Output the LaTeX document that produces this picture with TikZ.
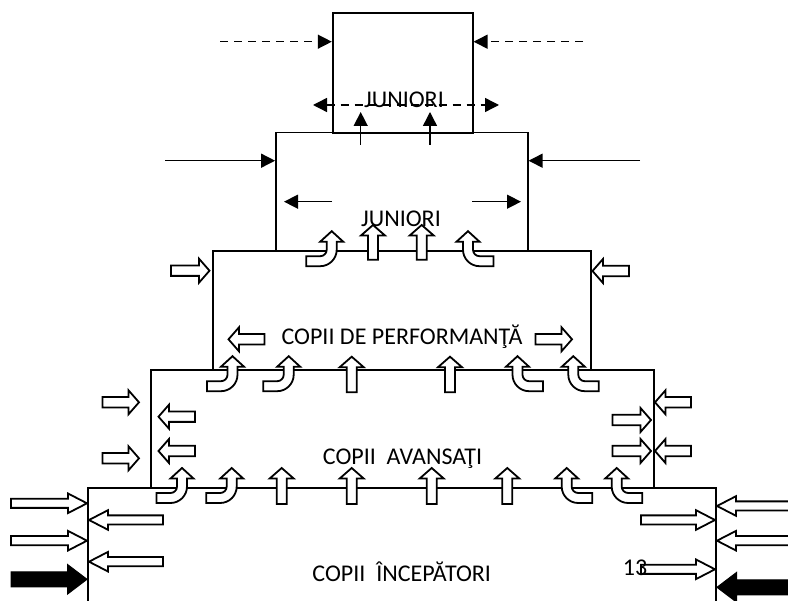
\documentclass[tikz,border=0pt]{standalone}
\usepackage{fontspec}
\setmainfont{Carlito}
\usetikzlibrary{arrows.meta}
\tikzset{
  box/.style={draw, line width=1.8pt, inner sep=0pt},
  wblk/.style={draw=black, fill=white, line width=1.8pt, line join=miter},
  kblk/.style={draw=black, fill=black, line width=1pt, line join=miter},
  thin/.style={line width=1.4pt, -{Triangle[length=14pt,width=14pt]}},
  dsh/.style={thin, dash pattern=on 8pt off 6pt},
  lab/.style={inner sep=0pt, anchor=base, font=\fontsize{24}{28}\selectfont},
  pics/curvup/.style={code={
    \draw[wblk] (0,0) -- (11.5,10.5) -- (5,10.5) -- (5,18.5)
      .. controls (5,27.6) and (-2.39,35) .. (-11.5,35) -- (-25.5,35) -- (-25.5,25) -- (-11.5,25)
      .. controls (-7.91,25) and (-5,22.09) .. (-5,18.5) -- (-5,10.5) -- (-11.5,10.5) -- cycle;
  }}
}
% horizontal block arrow: style, y, x tail, x tip, shaft half, head half, head length
\newcommand\blkH[7]{%
  \pgfmathsetmacro\blkb{#4-sign(#4-#3)*#7}%
  \draw[#1] (#3,#2-#5) -- (\blkb,#2-#5) -- (\blkb,#2-#6) -- (#4,#2) -- (\blkb,#2+#6) -- (\blkb,#2+#5) -- (#3,#2+#5) -- cycle;}
% vertical block arrow: style, x, y tail, y tip, shaft half, head half, head length
\newcommand\blkV[7]{%
  \pgfmathsetmacro\blkb{#4-sign(#4-#3)*#7}%
  \draw[#1] (#2-#5,#3) -- (#2-#5,\blkb) -- (#2-#6,\blkb) -- (#2,#4) -- (#2+#6,\blkb) -- (#2+#5,\blkb) -- (#2+#5,#3) -- cycle;}
\begin{document}
\begin{tikzpicture}[x=1pt,y=-1pt]
\useasboundingbox (0,0) rectangle (788,601);
\fill[white] (0,0) rectangle (788,601);
\clip (0,0) rectangle (788,601);

% boxes
\node[box, minimum width=140pt, minimum height=119.7pt] (top) at (402.7,72.85) {};
\node[box, minimum width=251.7pt, minimum height=118.5pt] (jun) at (401.85,191.75) {};
\node[box, minimum width=378pt, minimum height=118.7pt] (perf) at (402,310.15) {};
\node[box, minimum width=503.3pt, minimum height=118.3pt] (avans) at (402.35,429.15) {};
\node[box, minimum width=628.6pt, minimum height=151.7pt] (incep) at (402,564.15) {};

% curved block arrows (tail left) and mirrored
\pic at (331.7,231.2) {curvup};
\pic[xscale=-1] at (468,231.2) {curvup};
\pic at (232.5,356.2) {curvup};
\pic at (288.7,356.2) {curvup};
\pic[xscale=-1] at (517.5,356.2) {curvup};
\pic[xscale=-1] at (573.3,356.2) {curvup};
\pic at (182,468) {curvup};
\pic at (231.7,468) {curvup};
\pic[xscale=-1] at (566.7,468) {curvup};
\pic[xscale=-1] at (616.7,468) {curvup};

% straight upward block arrows
\blkV{wblk}{373}{259.7}{225}{5}{12}{10.5}
\blkV{wblk}{421.7}{259.7}{225}{5}{12}{10.5}
\blkV{wblk}{351.7}{392.3}{356.7}{5}{12}{10.5}
\blkV{wblk}{450}{392.3}{356.7}{5}{12}{10.5}
\blkV{wblk}{281.7}{504}{468}{5}{12}{10.5}
\blkV{wblk}{351.7}{504}{468}{5}{12}{10.5}
\blkV{wblk}{431.7}{504}{468}{5}{12}{10.5}
\blkV{wblk}{507.3}{504}{468}{5}{12}{10.5}

% performance box side arrows
\blkH{wblk}{270.7}{171}{209.5}{5.2}{12}{10.5}
\blkH{wblk}{271}{629}{592.5}{5.2}{12}{10.5}
\blkH{wblk}{339.3}{264.5}{228.5}{5.2}{12}{10.5}
\blkH{wblk}{339.3}{535.5}{572}{5.2}{12}{10.5}

% advanced box side arrows
\blkH{wblk}{402.3}{102.5}{139}{5.2}{12}{10.5}
\blkH{wblk}{458.3}{102.5}{139}{5.2}{12}{10.5}
\blkH{wblk}{416.7}{195}{158.5}{5.2}{12}{10.5}
\blkH{wblk}{451}{195}{158.5}{5.2}{12}{10.5}
\blkH{wblk}{402.3}{691}{655}{5.2}{12}{10.5}
\blkH{wblk}{451}{691}{655}{5.2}{12}{10.5}
\blkH{wblk}{420}{612.5}{651}{5.2}{12}{10.5}
\blkH{wblk}{451}{612.5}{651}{5.2}{12}{10.5}

% beginners box side arrows
\blkH{wblk}{503.3}{11}{87}{4.6}{9.8}{19}
\blkH{wblk}{520}{163}{89}{4.6}{9.8}{19}
\blkH{wblk}{540.7}{11}{87}{4.6}{9.8}{19}
\blkH{wblk}{561.7}{163}{89}{4.6}{9.8}{19}
\blkH{kblk}{579.3}{11}{87}{7.5}{14.8}{19.5}
\blkH{wblk}{506}{800}{717}{4.6}{9.8}{19}
\blkH{wblk}{520}{641}{715}{4.6}{9.8}{19}
\blkH{wblk}{540.7}{800}{717}{4.6}{9.8}{19}
\blkH{wblk}{569.3}{641}{715}{4.6}{9.8}{19}
\blkH{kblk}{587.3}{800}{717}{7.5}{14.8}{19.5}

% thin arrows of the top box
\coordinate (dl) at (220,41.7);
\coordinate (dr) at (583,41.7);
\draw[dsh] (dl) -- (dl -| top.west);
\draw[dsh] (dr) -- (dr -| top.east);
\coordinate (dd1) at (313,105);
\coordinate (dd2) at (499,105);
\draw[line width=1.4pt, dash pattern=on 8pt off 6pt, {Triangle[length=14pt,width=14pt]}-{Triangle[length=14pt,width=14pt]}] (dd1) -- (dd2);
\coordinate (ua1) at (360.7,145);
\coordinate (ub1) at (360.7,112);
\coordinate (ua2) at (430,145);
\coordinate (ub2) at (430,112);
\draw[thin] (ua1) -- (ub1);
\draw[thin] (ua2) -- (ub2);

% thin arrows of the juniors box
\coordinate (jl) at (165,160.7);
\coordinate (jr) at (640,160.7);
\draw[thin] (jl) -- (jl -| jun.west);
\draw[thin] (jr) -- (jr -| jun.east);
\coordinate (ja1) at (332,201.7);
\coordinate (jb1) at (284,201.7);
\coordinate (ja2) at (472,201.7);
\coordinate (jb2) at (521,201.7);
\draw[thin] (ja1) -- (jb1);
\draw[thin] (ja2) -- (jb2);

% labels
\node[lab] (t1) at (404,108) {JUNIORI};
\node[lab] (t2) at (401,226.7) {JUNIORI};
\node[lab] (t3) at (402,345) {COPII DE PERFORMANŢĂ};
\node[lab] (t4) at (402.5,465) {COPII~ AVANSAŢI};
\node[lab] (t5) at (401.7,581.7) {COPII~ ÎNCEPĂTORI};
\node[lab] (t6) at (635,576) {13};
\end{tikzpicture}
\end{document}
